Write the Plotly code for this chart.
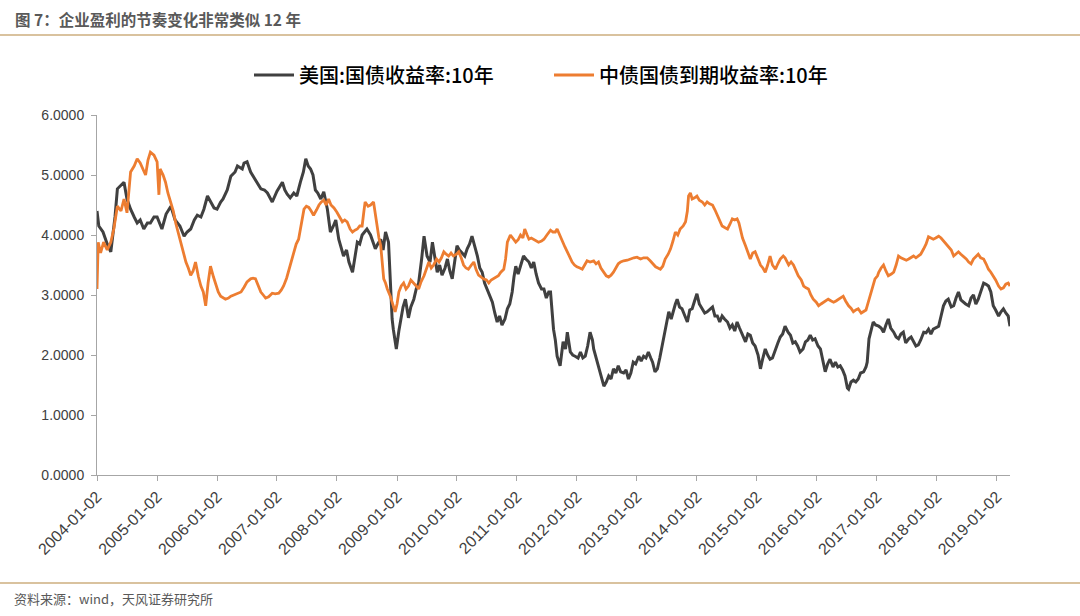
import pandas as pd
import plotly.graph_objects as go

# readings taken off the chart (time as decimal year, yield in %)
us_time = [
    2004.00, 2004.03, 2004.10, 2004.17, 2004.23, 2004.30, 2004.34, 2004.42, 2004.45, 2004.50,
    2004.56, 2004.62, 2004.67, 2004.72, 2004.78, 2004.84, 2004.89, 2004.95, 2005.00, 2005.08,
    2005.15, 2005.23, 2005.30, 2005.38, 2005.45, 2005.50, 2005.56, 2005.62, 2005.67, 2005.73,
    2005.78, 2005.84, 2005.89, 2005.95, 2006.00, 2006.06, 2006.10, 2006.17, 2006.23, 2006.30,
    2006.34, 2006.42, 2006.45, 2006.50, 2006.56, 2006.62, 2006.68, 2006.73, 2006.79, 2006.84,
    2006.92, 2006.96, 2007.00, 2007.09, 2007.13, 2007.17, 2007.22, 2007.28, 2007.33, 2007.39,
    2007.44, 2007.48, 2007.52, 2007.56, 2007.60, 2007.64, 2007.68, 2007.73, 2007.78, 2007.84,
    2007.89, 2007.94, 2007.98, 2008.03, 2008.07, 2008.11, 2008.16, 2008.20, 2008.26, 2008.30,
    2008.34, 2008.38, 2008.42, 2008.46, 2008.50, 2008.56, 2008.60, 2008.64, 2008.68, 2008.73,
    2008.77, 2008.81, 2008.86, 2008.89, 2008.92, 2008.94, 2008.99, 2009.03, 2009.06, 2009.10,
    2009.14, 2009.19, 2009.23, 2009.28, 2009.32, 2009.36, 2009.41, 2009.45, 2009.50, 2009.55,
    2009.59, 2009.63, 2009.67, 2009.71, 2009.75, 2009.80, 2009.84, 2009.88, 2009.92, 2009.96,
    2010.00, 2010.04, 2010.09, 2010.13, 2010.17, 2010.21, 2010.25, 2010.30, 2010.34, 2010.38,
    2010.42, 2010.46, 2010.50, 2010.55, 2010.59, 2010.63, 2010.67, 2010.71, 2010.75, 2010.80,
    2010.84, 2010.88, 2010.92, 2010.95, 2010.98, 2011.02, 2011.06, 2011.11, 2011.15, 2011.20,
    2011.24, 2011.28, 2011.32, 2011.36, 2011.41, 2011.45, 2011.49, 2011.53, 2011.56, 2011.59,
    2011.61, 2011.64, 2011.67, 2011.72, 2011.77, 2011.81, 2011.84, 2011.89, 2011.93, 2011.97,
    2012.02, 2012.06, 2012.10, 2012.14, 2012.18, 2012.22, 2012.26, 2012.28, 2012.32, 2012.36,
    2012.41, 2012.45, 2012.49, 2012.53, 2012.57, 2012.61, 2012.65, 2012.69, 2012.73, 2012.78,
    2012.82, 2012.86, 2012.90, 2012.94, 2012.98, 2013.03, 2013.07, 2013.11, 2013.15, 2013.19,
    2013.23, 2013.26, 2013.30, 2013.34, 2013.38, 2013.42, 2013.47, 2013.50, 2013.53, 2013.57,
    2013.61, 2013.64, 2013.67, 2013.71, 2013.75, 2013.80, 2013.84, 2013.88, 2013.92, 2013.96,
    2014.00, 2014.04, 2014.09, 2014.13, 2014.17, 2014.21, 2014.26, 2014.30, 2014.34, 2014.38,
    2014.42, 2014.46, 2014.51, 2014.55, 2014.59, 2014.63, 2014.67, 2014.71, 2014.76, 2014.81,
    2014.85, 2014.89, 2014.93, 2014.97, 2015.02, 2015.06, 2015.10, 2015.14, 2015.18, 2015.22,
    2015.26, 2015.31, 2015.35, 2015.39, 2015.43, 2015.47, 2015.52, 2015.56, 2015.60, 2015.64,
    2015.68, 2015.72, 2015.77, 2015.81, 2015.85, 2015.89, 2015.93, 2015.97, 2016.02, 2016.06,
    2016.10, 2016.14, 2016.18, 2016.22, 2016.27, 2016.31, 2016.35, 2016.39, 2016.43, 2016.47,
    2016.51, 2016.53, 2016.57, 2016.61, 2016.65, 2016.69, 2016.73, 2016.78, 2016.82, 2016.84,
    2016.87, 2016.90, 2016.94, 2016.98, 2017.03, 2017.07, 2017.11, 2017.15, 2017.19, 2017.23,
    2017.28, 2017.32, 2017.36, 2017.40, 2017.44, 2017.48, 2017.53, 2017.57, 2017.61, 2017.65,
    2017.69, 2017.73, 2017.78, 2017.82, 2017.86, 2017.90, 2017.94, 2017.98, 2018.03, 2018.07,
    2018.11, 2018.15, 2018.19, 2018.24, 2018.28, 2018.32, 2018.36, 2018.40, 2018.44, 2018.48,
    2018.53, 2018.57, 2018.61, 2018.65, 2018.69, 2018.73, 2018.78, 2018.82, 2018.86, 2018.90,
    2018.94, 2018.98, 2019.03, 2019.07, 2019.11, 2019.15, 2019.19, 2019.22,
]
us_yield = [
    4.40, 4.15, 4.05, 3.85, 3.72, 4.30, 4.77, 4.85, 4.88, 4.60,
    4.43, 4.30, 4.20, 4.25, 4.10, 4.20, 4.20, 4.30, 4.30, 4.10,
    4.35, 4.48, 4.25, 4.15, 3.98, 4.05, 4.10, 4.25, 4.33, 4.30,
    4.43, 4.65, 4.55, 4.45, 4.43, 4.55, 4.60, 4.75, 4.98, 5.05,
    5.15, 5.10, 5.20, 5.22, 5.05, 4.95, 4.85, 4.77, 4.75, 4.70,
    4.55, 4.65, 4.73, 4.88, 4.75, 4.68, 4.62, 4.70, 4.65, 4.88,
    5.05, 5.27, 5.15, 5.10, 5.00, 4.75, 4.70, 4.60, 4.72, 4.43,
    4.05, 4.15, 4.25, 3.93, 3.80, 3.65, 3.75, 3.55, 3.38, 3.65,
    3.88, 3.85, 4.00, 4.05, 4.10, 4.00, 3.90, 3.77, 3.85, 3.93,
    3.75, 4.05, 3.88, 3.10, 2.60, 2.43, 2.10, 2.40, 2.55, 2.80,
    2.93, 2.62, 2.80, 2.93, 3.10, 3.20, 3.60, 3.98, 3.65, 3.55,
    3.88, 3.60, 3.38, 3.50, 3.33, 3.45, 3.60, 3.40, 3.27, 3.55,
    3.82, 3.75, 3.70, 3.65, 3.77, 3.85, 3.98, 3.80, 3.65, 3.45,
    3.38, 3.20, 3.10, 2.95, 2.88, 2.70, 2.55, 2.65, 2.50, 2.60,
    2.77, 2.85, 3.05, 3.30, 3.48, 3.35, 3.48, 3.65, 3.60, 3.55,
    3.45, 3.55, 3.35, 3.20, 3.10, 3.10, 2.95, 3.05, 3.05, 2.70,
    2.43, 2.25, 1.98, 1.82, 2.22, 2.10, 2.38, 2.05, 2.00, 1.98,
    1.95, 2.05, 1.95, 1.98, 2.15, 2.38, 2.25, 2.10, 1.95, 1.77,
    1.60, 1.48, 1.55, 1.65, 1.60, 1.77, 1.70, 1.82, 1.72, 1.70,
    1.75, 1.60, 1.70, 1.88, 1.85, 1.98, 1.90, 1.98, 1.95, 2.05,
    1.95, 1.88, 1.72, 1.77, 1.95, 2.15, 2.38, 2.55, 2.72, 2.60,
    2.77, 2.85, 2.93, 2.80, 2.77, 2.65, 2.55, 2.75, 2.77, 2.90,
    3.02, 2.85, 2.77, 2.70, 2.72, 2.75, 2.80, 2.65, 2.65, 2.55,
    2.65, 2.60, 2.55, 2.45, 2.50, 2.40, 2.55, 2.45, 2.33, 2.22,
    2.35, 2.33, 2.20, 2.15, 2.00, 1.77, 1.95, 2.10, 2.00, 1.93,
    1.95, 2.10, 2.20, 2.30, 2.35, 2.48, 2.38, 2.33, 2.20, 2.22,
    2.15, 2.05, 2.10, 2.22, 2.25, 2.33, 2.25, 2.27, 2.15, 2.10,
    1.90, 1.72, 1.85, 1.93, 1.80, 1.88, 1.80, 1.82, 1.75, 1.65,
    1.45, 1.43, 1.55, 1.58, 1.55, 1.60, 1.70, 1.72, 1.80, 1.88,
    2.27, 2.40, 2.55, 2.50, 2.48, 2.45, 2.38, 2.50, 2.60, 2.45,
    2.38, 2.30, 2.27, 2.35, 2.38, 2.20, 2.27, 2.30, 2.22, 2.15,
    2.17, 2.25, 2.38, 2.37, 2.43, 2.35, 2.43, 2.45, 2.48, 2.65,
    2.82, 2.90, 2.93, 2.80, 2.82, 2.95, 3.05, 2.92, 2.88, 2.85,
    2.82, 2.95, 3.00, 2.85, 2.93, 3.05, 3.20, 3.18, 3.15, 3.05,
    2.82, 2.75, 2.65, 2.72, 2.77, 2.70, 2.65, 2.48,
]

cn_time = [
    2004.00, 2004.02, 2004.06, 2004.11, 2004.17, 2004.23, 2004.28, 2004.34, 2004.40, 2004.45,
    2004.50, 2004.53, 2004.56, 2004.62, 2004.67, 2004.72, 2004.77, 2004.81, 2004.85, 2004.89,
    2004.95, 2005.00, 2005.03, 2005.05, 2005.10, 2005.14, 2005.18, 2005.23, 2005.27, 2005.31,
    2005.35, 2005.39, 2005.44, 2005.48, 2005.52, 2005.56, 2005.60, 2005.64, 2005.69, 2005.73,
    2005.77, 2005.81, 2005.85, 2005.89, 2005.94, 2005.98, 2006.02, 2006.06, 2006.10, 2006.14,
    2006.19, 2006.23, 2006.28, 2006.34, 2006.40, 2006.45, 2006.50, 2006.56, 2006.60, 2006.64,
    2006.69, 2006.73, 2006.77, 2006.81, 2006.86, 2006.92, 2006.97, 2007.03, 2007.07, 2007.11,
    2007.16, 2007.20, 2007.24, 2007.28, 2007.32, 2007.36, 2007.40, 2007.45, 2007.49, 2007.53,
    2007.57, 2007.61, 2007.66, 2007.70, 2007.74, 2007.78, 2007.82, 2007.86, 2007.90, 2007.95,
    2008.00, 2008.04, 2008.09, 2008.13, 2008.17, 2008.22, 2008.26, 2008.30, 2008.34, 2008.38,
    2008.42, 2008.45, 2008.47, 2008.52, 2008.56, 2008.61, 2008.64, 2008.67, 2008.70, 2008.73,
    2008.76, 2008.78, 2008.81, 2008.84, 2008.89, 2008.93, 2008.97, 2009.00, 2009.03, 2009.07,
    2009.11, 2009.15, 2009.19, 2009.23, 2009.28, 2009.32, 2009.36, 2009.40, 2009.45, 2009.49,
    2009.53, 2009.57, 2009.61, 2009.66, 2009.70, 2009.74, 2009.78, 2009.82, 2009.86, 2009.90,
    2009.94, 2009.99, 2010.03, 2010.07, 2010.11, 2010.15, 2010.19, 2010.24, 2010.28, 2010.32,
    2010.36, 2010.40, 2010.44, 2010.49, 2010.53, 2010.57, 2010.61, 2010.65, 2010.69, 2010.73,
    2010.78, 2010.81, 2010.84, 2010.89, 2010.93, 2010.98, 2011.02, 2011.06, 2011.10, 2011.13,
    2011.17, 2011.20, 2011.24, 2011.28, 2011.32, 2011.36, 2011.41, 2011.45, 2011.50, 2011.56,
    2011.60, 2011.64, 2011.67, 2011.71, 2011.76, 2011.80, 2011.84, 2011.88, 2011.92, 2011.96,
    2012.00, 2012.05, 2012.09, 2012.13, 2012.17, 2012.22, 2012.28, 2012.32, 2012.36, 2012.40,
    2012.45, 2012.49, 2012.53, 2012.57, 2012.61, 2012.65, 2012.69, 2012.73, 2012.78, 2012.84,
    2012.89, 2012.95, 2013.00, 2013.06, 2013.11, 2013.17, 2013.22, 2013.27, 2013.31, 2013.35,
    2013.39, 2013.43, 2013.47, 2013.52, 2013.56, 2013.60, 2013.64, 2013.68, 2013.72, 2013.77,
    2013.81, 2013.84, 2013.86, 2013.89, 2013.92, 2013.96, 2014.00, 2014.04, 2014.09, 2014.13,
    2014.17, 2014.21, 2014.26, 2014.30, 2014.34, 2014.38, 2014.42, 2014.47, 2014.51, 2014.55,
    2014.59, 2014.63, 2014.67, 2014.70, 2014.72, 2014.76, 2014.81, 2014.85, 2014.89, 2014.93,
    2014.97, 2015.02, 2015.06, 2015.10, 2015.14, 2015.18, 2015.22, 2015.26, 2015.31, 2015.35,
    2015.39, 2015.44, 2015.47, 2015.53, 2015.57, 2015.61, 2015.65, 2015.69, 2015.74, 2015.78,
    2015.82, 2015.86, 2015.90, 2015.94, 2015.99, 2016.03, 2016.07, 2016.11, 2016.15, 2016.19,
    2016.24, 2016.28, 2016.32, 2016.36, 2016.40, 2016.44, 2016.48, 2016.53, 2016.57, 2016.61,
    2016.65, 2016.69, 2016.74, 2016.78, 2016.82, 2016.84, 2016.88, 2016.92, 2016.97, 2017.01,
    2017.03, 2017.07, 2017.11, 2017.15, 2017.19, 2017.24, 2017.28, 2017.32, 2017.36, 2017.40,
    2017.44, 2017.49, 2017.53, 2017.57, 2017.61, 2017.65, 2017.69, 2017.73, 2017.78, 2017.82,
    2017.86, 2017.90, 2017.94, 2017.98, 2018.03, 2018.07, 2018.11, 2018.15, 2018.19, 2018.24,
    2018.28, 2018.32, 2018.36, 2018.40, 2018.44, 2018.49, 2018.53, 2018.57, 2018.61, 2018.65,
    2018.69, 2018.73, 2018.78, 2018.82, 2018.86, 2018.90, 2018.94, 2018.98, 2019.03, 2019.07,
    2019.11, 2019.15, 2019.19, 2019.22,
]
cn_yield = [
    3.10, 3.88, 3.70, 3.88, 3.75, 3.88, 4.10, 4.48, 4.40, 4.60,
    4.37, 4.70, 5.05, 5.15, 5.27, 5.20, 5.10, 5.00, 5.25, 5.38,
    5.33, 5.22, 4.67, 5.10, 5.00, 4.88, 4.70, 4.55, 4.40, 4.20,
    4.05, 3.88, 3.70, 3.55, 3.45, 3.33, 3.40, 3.55, 3.30, 3.15,
    3.05, 2.82, 3.20, 3.48, 3.30, 3.15, 3.05, 2.98, 2.95, 2.93,
    2.95, 2.98, 3.00, 3.03, 3.05, 3.13, 3.22, 3.27, 3.28, 3.27,
    3.15, 3.05, 3.00, 2.95, 2.97, 3.03, 3.02, 3.03, 3.08, 3.15,
    3.28, 3.43, 3.58, 3.72, 3.85, 3.93, 4.15, 4.43, 4.48, 4.46,
    4.40, 4.33, 4.42, 4.50, 4.55, 4.58, 4.50, 4.60, 4.50, 4.45,
    4.38, 4.30, 4.22, 4.25, 4.22, 4.10, 4.05, 4.08, 4.10, 4.15,
    4.15, 4.40, 4.55, 4.48, 4.50, 4.55, 4.35, 4.10, 3.95, 3.82,
    3.55, 3.27, 3.20, 3.10, 2.98, 2.85, 2.72, 2.85, 3.05, 3.15,
    3.20, 3.10, 3.15, 3.25, 3.20, 3.15, 3.10, 3.22, 3.32, 3.45,
    3.55, 3.45, 3.50, 3.60, 3.55, 3.62, 3.72, 3.68, 3.65, 3.70,
    3.65, 3.68, 3.72, 3.62, 3.50, 3.45, 3.43, 3.50, 3.55, 3.42,
    3.33, 3.30, 3.27, 3.25, 3.20, 3.25, 3.27, 3.30, 3.32, 3.38,
    3.43, 3.60, 3.88, 4.00, 3.95, 3.88, 3.92, 4.00, 3.95, 4.10,
    4.00, 3.93, 3.95, 3.93, 3.90, 3.88, 3.90, 3.93, 4.00, 4.08,
    4.05, 4.05, 4.10, 4.00, 3.88, 3.80, 3.72, 3.62, 3.55, 3.50,
    3.47, 3.45, 3.43, 3.50, 3.57, 3.55, 3.57, 3.52, 3.55, 3.45,
    3.38, 3.32, 3.30, 3.33, 3.38, 3.45, 3.52, 3.55, 3.57, 3.58,
    3.60, 3.62, 3.63, 3.60, 3.62, 3.62, 3.57, 3.52, 3.47, 3.45,
    3.43, 3.48, 3.60, 3.68, 3.77, 3.90, 4.05, 4.00, 4.10, 4.15,
    4.22, 4.40, 4.65, 4.70, 4.60, 4.62, 4.65, 4.58, 4.55, 4.50,
    4.55, 4.52, 4.50, 4.42, 4.33, 4.22, 4.15, 4.12, 4.10, 4.18,
    4.27, 4.25, 4.27, 4.20, 4.10, 3.95, 3.82, 3.70, 3.60, 3.70,
    3.72, 3.60, 3.50, 3.45, 3.38, 3.50, 3.65, 3.50, 3.43, 3.52,
    3.60, 3.65, 3.62, 3.50, 3.55, 3.50, 3.42, 3.32, 3.25, 3.15,
    3.12, 3.10, 3.00, 2.93, 2.88, 2.82, 2.85, 2.88, 2.90, 2.93,
    2.90, 2.88, 2.90, 2.93, 2.95, 2.98, 2.90, 2.82, 2.78, 2.72,
    2.75, 2.77, 2.70, 2.72, 2.75, 2.82, 2.95, 3.10, 3.27, 3.32,
    3.38, 3.45, 3.50, 3.40, 3.32, 3.35, 3.38, 3.50, 3.65, 3.62,
    3.60, 3.58, 3.60, 3.62, 3.65, 3.62, 3.65, 3.68, 3.77, 3.85,
    3.97, 3.95, 3.93, 3.95, 3.98, 3.95, 3.90, 3.85, 3.82, 3.75,
    3.65, 3.68, 3.72, 3.68, 3.65, 3.60, 3.55, 3.52, 3.60, 3.65,
    3.68, 3.62, 3.60, 3.52, 3.43, 3.38, 3.32, 3.25, 3.15, 3.10,
    3.12, 3.18, 3.20, 3.15,
]

tick_years = list(range(2004, 2020))
series_names = ['美国:国债收益率:10年', '中债国债到期收益率:10年']
title_text = '图 7：企业盈利的节奏变化非常类似 12 年'
source_text = '资料来源：wind，天风证券研究所'


def to_date(t):
    year = int(t)
    return pd.Timestamp(year=year, month=1, day=2) + pd.Timedelta(days=(t - year) * 365.25)


W, H = 1080, 616
L, R, T, B = 97, 70, 115, 141


def px(x):  # pixel -> paper x
    return (x - L) / (W - L - R)


def py(y):  # pixel -> paper y
    return (H - B - y) / (H - T - B)


fig = go.Figure()
fig.add_trace(go.Scatter(
    x=[to_date(t) for t in us_time], y=us_yield, name=series_names[0],
    mode='lines', line=dict(color='#404040', width=3)))
fig.add_trace(go.Scatter(
    x=[to_date(t) for t in cn_time], y=cn_yield, name=series_names[1],
    mode='lines', line=dict(color='#ED7D31', width=2.8)))

tick_vals = [f'{y}-01-02' for y in tick_years]
axis_font = dict(family='Liberation Sans, Arial, sans-serif', size=14, color='#404040')

fig.update_layout(
    width=W, height=H,
    margin=dict(l=L, r=R, t=T, b=B),
    paper_bgcolor='white', plot_bgcolor='white',
    font=dict(family='Noto Sans CJK SC, sans-serif'),
    showlegend=True,
    legend=dict(orientation='h', x=px(249), xanchor='left', y=py(75), yanchor='middle',
                font=dict(family='Noto Sans CJK SC', size=20, color='#000000', weight=500),
                entrywidth=245, entrywidthmode='pixels',
                itemwidth=40, bgcolor='rgba(0,0,0,0)'),
    xaxis=dict(type='date', range=[to_date(2004.0), to_date(2019.22)],
               tickvals=tick_vals, ticktext=tick_vals, tickangle=-45,
               ticks='outside', ticklen=5, tickcolor='#A6A6A6',
               showline=True, linecolor='#A6A6A6', linewidth=1,
               showgrid=False, zeroline=False,
               tickfont=dict(axis_font, size=16)),
    yaxis=dict(range=[0, 6], dtick=1, tickformat='.4f',
               ticks='outside', ticklen=5, tickcolor='#A6A6A6',
               showline=True, linecolor='#A6A6A6', linewidth=1,
               showgrid=False, zeroline=False, tickfont=axis_font,
               ticklabelstandoff=4),
)

# header / footer decoration
fig.add_annotation(text=f'<b>{title_text}</b>', xref='paper', yref='paper',
                   x=px(13), y=py(19), xanchor='left', yanchor='middle', showarrow=False,
                   font=dict(family='Noto Sans CJK SC', size=15.5, color='#595959'))
fig.add_annotation(text=source_text, xref='paper', yref='paper',
                   x=px(12), y=py(598), xanchor='left', yanchor='middle', showarrow=False,
                   font=dict(family='Noto Sans CJK SC', size=13, color='#595959'))
for yline in (35, 583):
    fig.add_shape(type='line', xref='paper', yref='paper',
                  x0=px(0), x1=px(W), y0=py(yline), y1=py(yline),
                  line=dict(color='#CDAE7E', width=1.5))

# remove the page's default body margin so the figure sits at the window's corner
fig.write_html('out.html', config={'displayModeBar': False},
               post_script="document.body.style.margin='0';")
